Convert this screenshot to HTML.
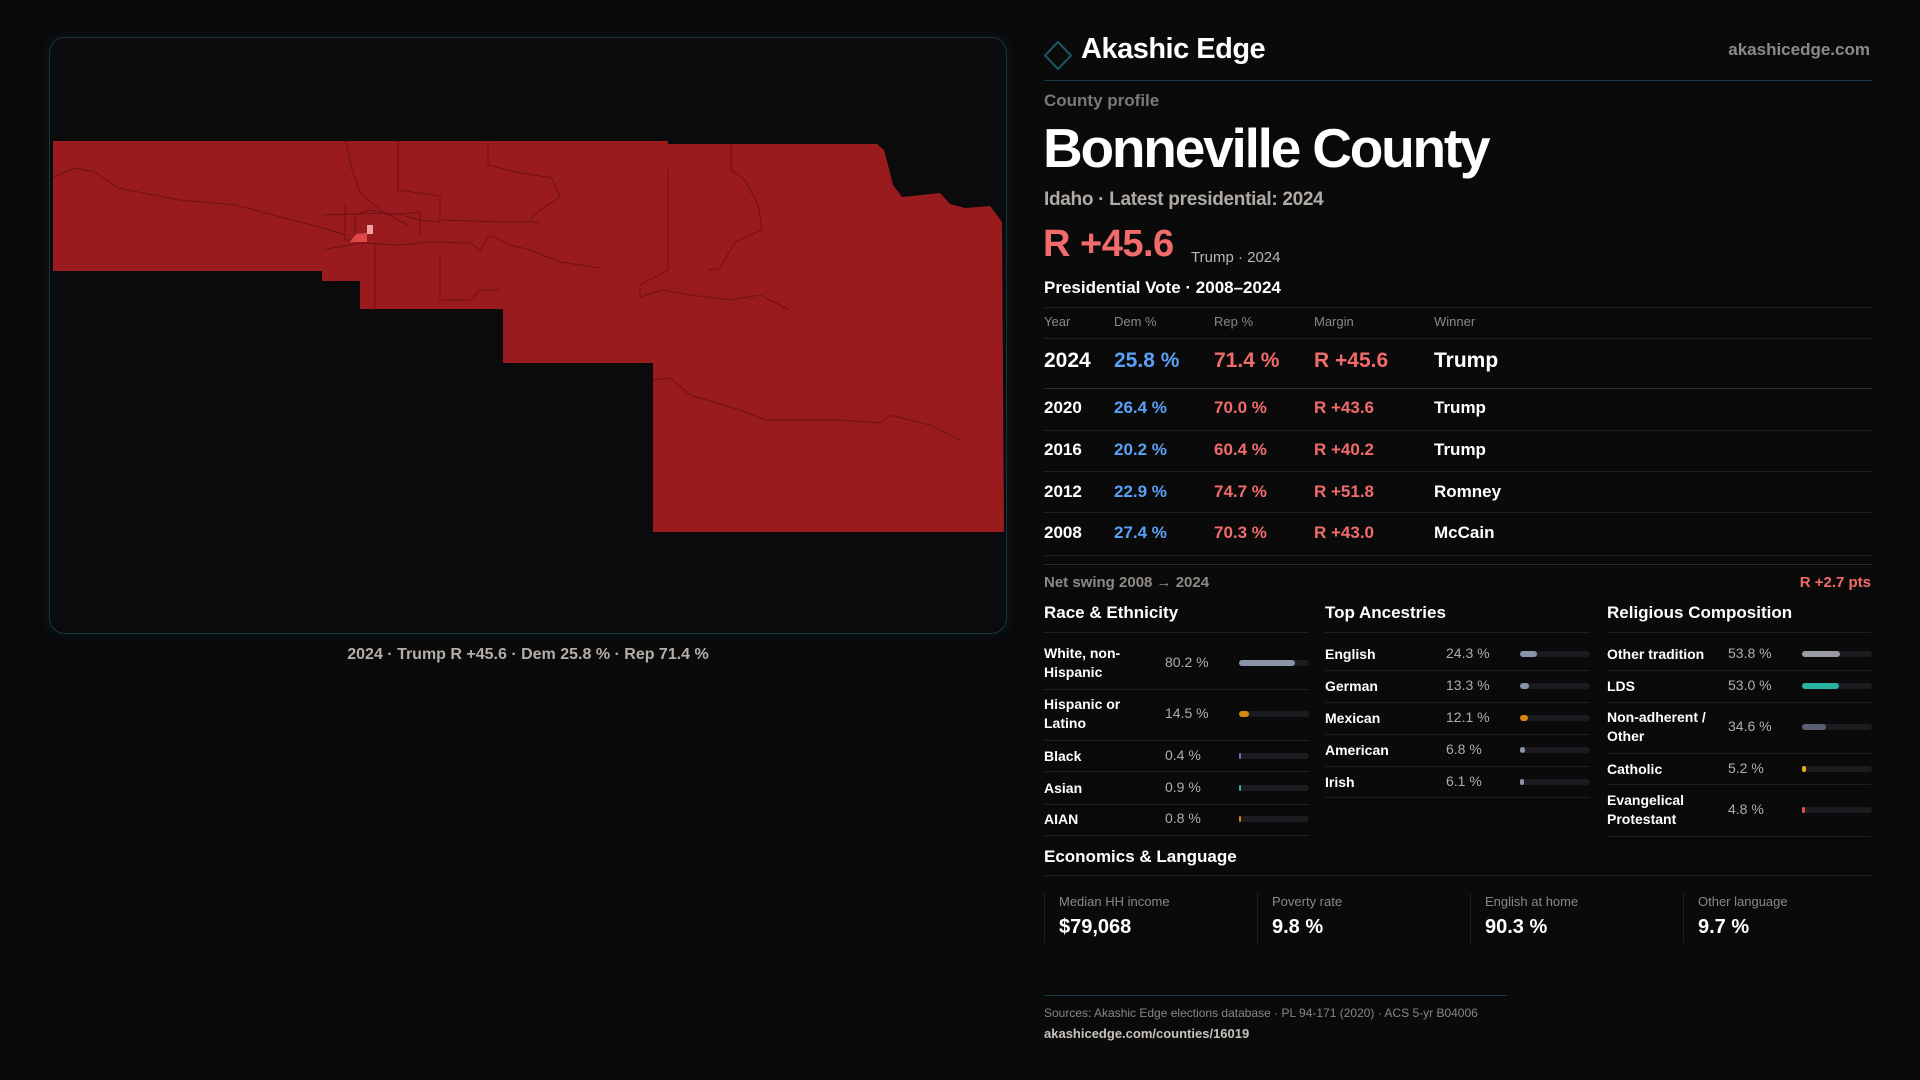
<!DOCTYPE html>
<html><head><meta charset="utf-8"><style>
*{margin:0;padding:0;box-sizing:border-box}
body{width:1920px;height:1080px;background:#0a0a0b;font-family:"Liberation Sans",sans-serif;color:#fff;position:relative;overflow:hidden}
.a{position:absolute;white-space:nowrap}
.g{color:#8c8782}
.hl{position:absolute;height:1px;background:#1f1f22}
.sal{color:#f26b6b}.blu{color:#5aa0f5}
</style></head><body>
<div class="a" style="left:49px;top:37px;width:958px;height:597px;border:1px solid #14363c;border-radius:16px;background:#0b0b0d;box-shadow:0 0 12px rgba(20,70,80,.25)"></div>
<svg class="a" style="left:0;top:0" width="1010" height="640">
<polygon fill="#9a1b1e" points="53,141 668,141 668,144 877,144 884,150 888,165 893,185 902,197 912,196 940,193 950,204 965,208 990,206 1002,222 1004,532 653,532 653,363 503,363 503,309 360,309 360,281 322,281 322,271 53,271"/>
<g fill="none" stroke="#6e1215" stroke-width="1">
<polyline points="53,177 75,168 95,172 118,188 180,200 235,205 285,218 330,230 345,235"/>
<polyline points="346,141 352,170 360,193 380,210 408,225"/>
<polyline points="398,141 398,190 440,196 440,220 505,222 540,222"/>
<polyline points="488,141 488,165 515,172 552,178 560,197 540,210 530,220"/>
<polyline points="731,144 731,170 745,180 758,205 762,230 735,242 720,268 708,270"/>
<polyline points="668,170 668,270 640,285 640,297 662,290 690,295 730,300 760,295 770,300 790,310"/>
<polyline points="653,380 670,378 690,395 740,410 765,420 840,420 880,423 890,415 930,425 960,440"/>
<polyline points="375,242 375,309"/>
<polyline points="322,250 360,243 400,245 430,242 470,243 480,250 490,235 510,245 530,250 560,262 600,268"/>
<polyline points="440,256 440,300 470,300 480,290 500,290"/>
<polyline points="322,215 395,213 420,220 440,222"/>
<polyline points="345,205 345,240 355,240 355,215 370,210 390,215 420,212 420,235"/>
</g>
<rect x="367" y="225" width="6" height="9" fill="#f2a0a0"/>
<polygon points="350,242 356,234 367,233 367,242" fill="#e04848"/>
</svg>
<div class="a" style="left:49px;width:958px;text-align:center;top:646px;font-size:16px;font-weight:600;color:#b5aea8">2024 · Trump R +45.6 · Dem 25.8 % · Rep 71.4 %</div>

<svg class="a" style="left:1043px;top:40px" width="30" height="31"><polygon points="15,2 28,15.5 15,29 2,15.5" fill="none" stroke="#1a5763" stroke-width="2"/></svg>
<div class="a" style="left:1081px;top:33px;font-size:29px;font-weight:600;letter-spacing:-0.5px">Akashic Edge</div>
<div class="a g" style="right:50px;top:40px;font-size:17px;font-weight:600;color:#8d8a87">akashicedge.com</div>
<div class="hl" style="left:1044px;top:80px;width:828px;background:#123c45"></div>
<div class="a g" style="left:1044px;top:91px;font-size:17px;font-weight:600;color:#7c7875">County profile</div>
<div class="a" style="left:1043px;top:116px;font-size:55px;font-weight:700;letter-spacing:-2.2px">Bonneville County</div>
<div class="a" style="left:1044px;top:189px;font-size:19px;font-weight:600;color:#b0aaa5;letter-spacing:-0.3px">Idaho · Latest presidential: 2024</div>
<div class="a sal" style="left:1043px;top:223px;font-size:38px;font-weight:600;letter-spacing:-0.5px">R +45.6</div>
<div class="a" style="left:1191px;top:249px;font-size:15px;color:#bcb6b0">Trump · 2024</div>
<div class="a" style="left:1044px;top:278px;font-size:17px;font-weight:600">Presidential Vote · 2008–2024</div>
<div class="hl" style="left:1044px;top:307px;width:828px"></div>
<div class="a g" style="left:1044px;top:314px;font-size:13px">Year</div>
<div class="a g" style="left:1114px;top:314px;font-size:13px">Dem %</div>
<div class="a g" style="left:1214px;top:314px;font-size:13px">Rep %</div>
<div class="a g" style="left:1314px;top:314px;font-size:13px">Margin</div>
<div class="a g" style="left:1434px;top:314px;font-size:13px">Winner</div>
<div class="hl" style="left:1044px;top:338px;width:828px"></div>
<div id="vote"></div>
<div class="hl" style="left:1044px;top:564px;width:828px;background:#2a2a2d"></div>
<div class="a g" style="left:1044px;top:574px;font-size:15px;font-weight:600;color:#8f8a85">Net swing 2008 → 2024</div>
<div class="a sal" style="right:49px;top:574px;font-size:15px;font-weight:600">R +2.7 pts</div>
<div id="demo"></div>
<div class="a" style="left:1044px;top:847px;font-size:17px;font-weight:600">Economics &amp; Language</div>
<div class="hl" style="left:1044px;top:875px;width:828px"></div>
<div id="stats"></div>
<div class="hl" style="left:1044px;top:995px;width:463px;background:#123c45"></div>
<div class="a" style="left:1044px;top:1006px;font-size:12px;color:#8a8580">Sources: Akashic Edge elections database · PL 94-171 (2020) · ACS 5-yr B04006</div>
<div class="a" style="left:1044px;top:1026px;font-size:13px;font-weight:600;color:#c8c2bc">akashicedge.com/counties/16019</div>
<script>
const years=["2024","2020","2016","2012","2008"];
const dem=[25.8,26.4,20.2,22.9,27.4];
const rep=[71.4,70.0,60.4,74.7,70.3];
const margins=[45.6,43.6,40.2,51.8,43.0];
const winners=["Trump","Trump","Trump","Romney","McCain"];
const raceLabels=["White, non-<br>Hispanic","Hispanic or<br>Latino","Black","Asian","AIAN"];
const raceVals=[80.2,14.5,0.4,0.9,0.8];
const ancLabels=["English","German","Mexican","American","Irish"];
const ancVals=[24.3,13.3,12.1,6.8,6.1];
const relLabels=["Other tradition","LDS","Non-adherent /<br>Other","Catholic","Evangelical<br>Protestant"];
const relVals=[53.8,53.0,34.6,5.2,4.8];
const statLabels=["Median HH income","Poverty rate","English at home","Other language"];
const statVals=["$79,068","9.8 %","90.3 %","9.7 %"];

const vt=document.getElementById('vote');
const rowC=[362,408,450,492,533], rowL=[388,430,471,512,555];
years.forEach((y,i)=>{
  const big=i===0, fs=big?21:17, t=rowC[i]-fs*0.6;
  const cells=[[1044,y,'#fff'],[1114,dem[i].toFixed(1)+' %','#5aa0f5'],[1214,rep[i].toFixed(1)+' %','#f26b6b'],[1314,'R +'+margins[i].toFixed(1),'#f26b6b'],[1434,winners[i],'#fff']];
  cells.forEach(c=>{const d=document.createElement('div');d.className='a';
  
  
  d.style.cssText=`left:${c[0]}px;top:${t}px;font-size:${fs}px;font-weight:600;color:${c[2]}`;d.textContent=c[1];vt.appendChild(d);});
  const l=document.createElement('div');l.className='hl';
  
  
  l.style.cssText=`left:1044px;top:${rowL[i]}px;width:828px;${i===0?'background:#2e2e32':''}`;vt.appendChild(l);
});

const demo=document.getElementById('demo');
function section(title,x,w,labels,vals,centers,lines,colors,pctX,barX){
  const h=document.createElement('div');h.className='a';
  
  
  h.style.cssText=`left:${x}px;top:603px;font-size:17px;font-weight:600`;h.textContent=title;demo.appendChild(h);
  const l0=document.createElement('div');l0.className='hl';l0.style.cssText=`left:${x}px;top:632px;width:${w}px`;demo.appendChild(l0);
  labels.forEach((lb,i)=>{
    const two=lb.includes('<br>');
    const d=document.createElement('div');d.className='a';
    
    
    d.style.cssText=`left:${x}px;top:${centers[i]-(two?19:9)}px;font-size:14px;font-weight:600;line-height:19px`;d.innerHTML=lb;demo.appendChild(d);
    const p=document.createElement('div');p.className='a';
    
    
    p.style.cssText=`left:${pctX}px;top:${centers[i]-9}px;font-size:14px;color:#b3ada7`;p.textContent=vals[i].toFixed(1)+' %';demo.appendChild(p);
    const tr=document.createElement('div');tr.className='a';
    
    
    tr.style.cssText=`left:${barX}px;top:${centers[i]-3}px;width:70px;height:6px;border-radius:3px;background:#1c1c20`;demo.appendChild(tr);
    const b=document.createElement('div');b.className='a';
    
    
    b.style.cssText=`left:${barX}px;top:${centers[i]-3}px;width:${Math.max(1.5,vals[i]/100*70)}px;height:6px;border-radius:3px;background:${colors[i]}`;demo.appendChild(b);
    const l=document.createElement('div');l.className='hl';l.style.cssText=`left:${x}px;top:${lines[i]}px;width:${w}px`;demo.appendChild(l);
  });
}
section('Race & Ethnicity',1044,265,raceLabels,raceVals,[663,714,756,788,819],[689,740,771,804,835],['#8a94a8','#d4880f','#7a6ad0','#2ab3a0','#d4880f'],1165,1239);
section('Top Ancestries',1325,265,ancLabels,ancVals,[654,686,718,750,782],[670,702,734,766,797],['#8a94a8','#8a94a8','#d4880f','#8a94a8','#8a94a8'],1446,1520);
section('Religious Composition',1607,264,relLabels,relVals,[654,686,727,769,810],[670,702,753,784,836],['#9a9ca4','#2ab3a0','#5a6070','#e0b020','#e05050'],1728,1802);

const st=document.getElementById('stats');
const sx=[1044,1257,1470,1683];
statLabels.forEach((lb,i)=>{
  const c=document.createElement('div');c.className='a';
  
  
  c.style.cssText=`left:${sx[i]}px;top:894px;width:200px;height:49px;border-left:1px solid #202024`;st.appendChild(c);
  const l=document.createElement('div');l.className='a';
  
  
  l.style.cssText=`left:${sx[i]+15}px;top:894px;font-size:13px;color:#8c8782`;l.textContent=lb;st.appendChild(l);
  const v=document.createElement('div');v.className='a';
  
  
  v.style.cssText=`left:${sx[i]+15}px;top:916px;font-size:20px;font-weight:600`;v.textContent=statVals[i];st.appendChild(v);
});
</script>
</body></html>
